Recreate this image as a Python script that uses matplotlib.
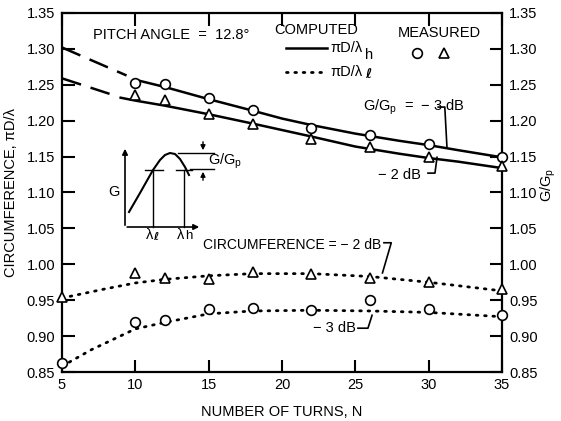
import numpy as np
import matplotlib
matplotlib.use("Agg")
import matplotlib.pyplot as plt

plt.rcParams['font.family'] = ['Liberation Sans', 'DejaVu Sans']
plt.rcParams['mathtext.fontset'] = 'custom'
plt.rcParams['mathtext.rm'] = 'Liberation Sans'
plt.rcParams['mathtext.it'] = 'Liberation Sans'
plt.rcParams['font.size'] = 10.5

# measured points
n_meas = [10, 12, 15, 18, 22, 26, 30, 35]
h_circ = [1.253, 1.251, 1.231, 1.215, 1.190, 1.180, 1.168, 1.150]
h_tri = [1.236, 1.229, 1.210, 1.196, 1.175, 1.163, 1.150, 1.137]
n_low = [5, 10, 12, 15, 18, 22, 26, 30, 35]
l_tri = [0.954, 0.988, 0.981, 0.979, 0.989, 0.986, 0.981, 0.975, 0.965]
l_circ = [0.862, 0.920, 0.922, 0.938, 0.939, 0.936, 0.950, 0.938, 0.930]

# computed curves
n_up = [10, 12, 15, 18, 20, 22, 25, 28, 30, 32, 35]
up_curve = [1.257, 1.247, 1.230, 1.214, 1.203, 1.194, 1.182, 1.172, 1.166, 1.159, 1.149]
n_up_dash = [5, 9.4]
up_dash = [1.302, 1.263]
n_lo = [9, 10, 12, 15, 18, 20, 22, 25, 28, 30, 32, 35]
lo_curve = [1.232, 1.228, 1.221, 1.209, 1.196, 1.187, 1.178, 1.164, 1.154, 1.148, 1.143, 1.134]
n_lo_dash = [5, 8.6]
lo_dash = [1.259, 1.235]
n_dot2 = [5, 8, 10, 12, 15, 18, 22, 26, 30, 35]
dot2 = [0.953, 0.966, 0.974, 0.979, 0.984, 0.987, 0.987, 0.983, 0.975, 0.963]
n_dot3 = [5, 7, 10, 12, 15, 18, 22, 26, 30, 35]
dot3 = [0.858, 0.881, 0.910, 0.919, 0.931, 0.935, 0.936, 0.935, 0.933, 0.927]

xticks = [5, 10, 15, 20, 25, 30, 35]
yticks = [0.85, 0.90, 0.95, 1.00, 1.05, 1.10, 1.15, 1.20, 1.25, 1.30, 1.35]

fig = plt.figure(figsize=(5.61, 4.21), dpi=100)
ax = fig.add_axes([62/561, 1-372/421, 440/561, 359/421])

lw = 1.8
dots = (0, (0.6, 2.4))
ax.plot(n_up, up_curve, color='k', lw=lw)
ax.plot(n_lo, lo_curve, color='k', lw=lw)
ax.plot(n_up_dash, up_dash, color='k', lw=lw, dashes=(8, 4))
ax.plot(n_lo_dash, lo_dash, color='k', lw=lw, dashes=(8, 4))
ax.plot(n_dot2, dot2, color='k', lw=2, linestyle=dots, dash_capstyle='round')
ax.plot(n_dot3, dot3, color='k', lw=2, linestyle=dots, dash_capstyle='round')

mk = dict(linestyle='none', mfc='white', mec='k', mew=1.2, ms=7, clip_on=False, zorder=5)
ax.plot(n_meas, h_circ, marker='o', **mk)
ax.plot(n_meas, h_tri, marker='^', **mk)
ax.plot(n_low, l_tri, marker='^', **mk)
ax.plot(n_low, l_circ, marker='o', **mk)

ax.set_xlim(5, 35)
ax.set_ylim(0.85, 1.35)
ax.set_xticks(xticks)
ax.set_yticks(yticks)
ax.set_yticklabels(['%.2f' % v for v in yticks])
ax.tick_params(direction='in', length=9, width=1.5, top=True, right=True,
               labelright=True, labelsize=10.5)
ax.tick_params(axis='y', pad=5)
ax.tick_params(axis='x', pad=4)
for sp in ax.spines.values():
    sp.set_linewidth(1.6)

ax.set_xlabel('NUMBER OF TURNS, N', fontsize=10.5, labelpad=10)
ax.set_ylabel('CIRCUMFERENCE, πD/λ', fontsize=10.5, labelpad=6)
ax.text(1.105, 0.52, 'G/G$_\\mathrm{p}$', transform=ax.transAxes, rotation=90,
        ha='center', va='center', fontsize=10.5)

# texts and legend
ax.text(7.1, 1.319, 'PITCH ANGLE  =  12.8°', va='center')
ax.text(19.5, 1.326, 'COMPUTED', va='center')
ax.text(27.9, 1.322, 'MEASURED', va='center')
ax.plot([20.3, 23.1], [1.301, 1.301], color='k', lw=lw)
ax.text(23.3, 1.301, 'πD/λ', va='center')
ax.text(25.65, 1.292, 'h', va='center')
ax.plot([20.3, 23.1], [1.268, 1.268], color='k', lw=2, linestyle=dots,
        dash_capstyle='round')
ax.text(23.3, 1.268, 'πD/λ', va='center')
ax.text(25.65, 1.264, 'ℓ', va='center', fontsize=9.5, fontweight='bold',
        family=['DejaVu Sans'])
ax.plot([29.2], [1.294], marker='o', **mk)
ax.plot([31.05], [1.294], marker='^', **mk)

ax.text(25.5, 1.219, 'G/G$_\\mathrm{p}$  =  − 3 dB', va='center')
ax.plot([30.65, 31.1, 31.25], [1.219, 1.219, 1.162], color='k', lw=1.2)
ax.text(26.55, 1.124, '− 2 dB', va='center')
ax.plot([29.95, 30.43, 30.57], [1.127, 1.127, 1.149], color='k', lw=1.2)
ax.text(14.6, 1.027, 'CIRCUMFERENCE = − 2 dB', va='center', fontsize=10)
ax.plot([26.95, 27.45, 26.85], [1.030, 1.030, 0.988], color='k', lw=1.2)
ax.text(22.1, 0.911, '− 3 dB', va='center')
ax.plot([25.18, 25.86, 26.14], [0.911, 0.911, 0.929], color='k', lw=1.2)

# inset sketch
ins = fig.add_axes([120/561, 1-240/421, 100/561, 100/421])
ins.set_xlim(0, 100)
ins.set_ylim(0, 100)
ins.axis('off')
sk_x = [9, 20, 33, 40, 45, 50, 55, 60, 65, 69]
sk_y = [28, 47, 70, 80, 85, 87, 86, 81, 73, 65]
ins.plot(sk_x, sk_y, color='k', lw=1.5, clip_on=False)
ins.annotate('', xy=(5, 94), xytext=(5, 12),
             arrowprops=dict(arrowstyle='-|>', color='k', lw=1.2, mutation_scale=8))
ins.annotate('', xy=(82, 13), xytext=(4.4, 13),
             arrowprops=dict(arrowstyle='-|>', color='k', lw=1.2, mutation_scale=8))
ins.plot([33, 33], [13, 70], color='k', lw=1)
ins.plot([64, 64], [13, 70], color='k', lw=1)
ins.plot([25, 43], [70, 70], color='k', lw=1)
ins.plot([56, 72], [70, 70], color='k', lw=1)
ins.plot([58, 94], [87, 87], color='k', lw=1, clip_on=False)
ins.plot([70, 94], [71, 71], color='k', lw=1, clip_on=False)
ins.annotate('', xy=(83, 87), xytext=(83, 101),
             arrowprops=dict(arrowstyle='-|>', color='k', lw=1, mutation_scale=7),
             annotation_clip=False)
ins.annotate('', xy=(83, 71), xytext=(83, 57),
             arrowprops=dict(arrowstyle='-|>', color='k', lw=1, mutation_scale=7),
             annotation_clip=False)
ins.text(88, 79, 'G/G$_\\mathrm{p}$', va='center', clip_on=False)
ins.text(-6, 48, 'G', va='center', ha='center')
ins.text(30, 5, 'λ', va='center', ha='center')
ins.text(36, 3, 'ℓ', va='center', ha='center', fontsize=8, fontweight='bold',
         family=['DejaVu Sans'])
ins.text(61, 5, 'λ', va='center', ha='center')
ins.text(68.5, 4, 'h', va='center', ha='center', fontsize=9.5)

fig.savefig('out.png', dpi=100)
